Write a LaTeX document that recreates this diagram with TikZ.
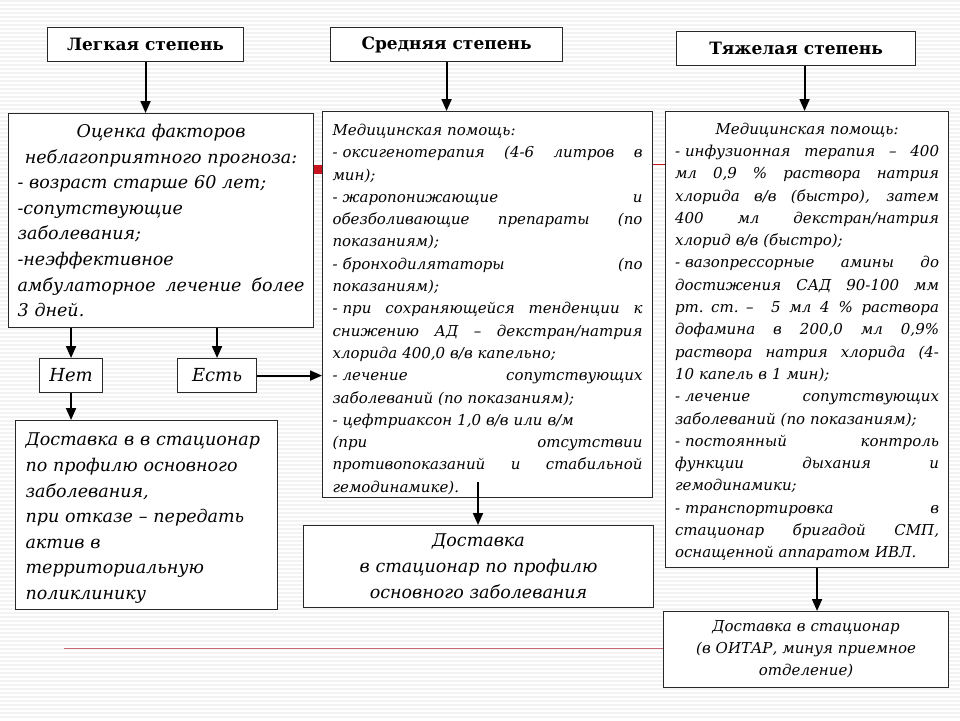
\documentclass[tikz,border=0pt]{standalone}
\usepackage{fontspec}
\setmainfont{DejaVu Serif}
\usetikzlibrary{arrows.meta,calc}
\newcommand{\fullline}[1]{\makebox[\linewidth][s]{\spaceskip=.33em plus 1fil\relax #1}}
\newcommand{\ctrline}[1]{\makebox[\linewidth][c]{#1}}
\newcommand{\dsh}{\mbox{-\kern.33em}}
\definecolor{stripe}{RGB}{243,243,243}
\definecolor{redband}{RGB}{200,20,30}
\definecolor{redthin}{RGB}{200,105,120}
\definecolor{boxline}{RGB}{40,40,40}
\begin{document}
\begin{tikzpicture}[x=1pt,y=-1pt,
  box/.style={draw=boxline,line width=1.1pt,fill=white,inner ysep=0pt,anchor=north west},
  hdr/.style={box,inner xsep=4pt,font=\fontsize{17}{20}\selectfont\bfseries,align=center},
  bigtxt/.style={font=\fontsize{17.5}{25.6}\selectfont\itshape},
  smalltxt/.style={font=\fontsize{15}{22.3}\selectfont\itshape},
  arr/.style={line width=1.9pt,-{Triangle[length=12pt,width=10pt]}},
  stripeline/.style={draw=stripe,line width=1.5pt}]
\useasboundingbox (0,0) rectangle (960,720);
\fill[white] (0,0) rectangle (960,720);
\foreach \yy in {1,5,...,720} \draw[stripeline] (0,\yy) -- (960,\yy);
% red decorations
\fill[redband] (313,165) rectangle (322,174);
\draw[redband,line width=0.9pt] (652,164) -- (665,164);
\draw[redthin,line width=1pt] (64,648) -- (663,648);
% headers
\node[hdr,minimum width=196pt,minimum height=34pt] (h1) at (47,27) {Легкая степень};
\node[hdr,minimum width=232pt,minimum height=34pt] (h2) at (330,27) {Средняя степень};
\node[hdr,minimum width=239pt,minimum height=34pt] (h3) at (676,31) {Тяжелая степень};
% left box
\node[box,bigtxt,inner xsep=9pt,text width=287pt,minimum height=214pt,align=left] (lb) at (8,113) {%
\ctrline{Оценка факторов}\\
\ctrline{неблагоприятного прогноза:}\\
\dsh возраст старше 60 лет;\\
-сопутствующие\\
заболевания;\\
-неэффективное\\
\fullline{амбулаторное лечение более}\\
3 дней.};
% middle box
\node[box,smalltxt,inner xsep=10pt,text width=310pt,minimum height=386pt,align=left] (mb) at (322,111) {%
\rule{0pt}{21pt}Медицинская помощь:\\
\fullline{\dsh оксигенотерапия (4-6 литров в}\\
мин);\\
\fullline{\dsh жаропонижающие и}\\
\fullline{обезболивающие препараты (по}\\
показаниям);\\
\fullline{\dsh бронходилятаторы (по}\\
показаниям);\\
\fullline{\dsh при сохраняющейся тенденции к}\\
\fullline{снижению АД – декстран/натрия}\\
хлорида 400,0 в/в капельно;\\
\fullline{\dsh лечение сопутствующих}\\
заболеваний (по показаниям);\\
\dsh цефтриаксон 1,0 в/в или в/м\\
\fullline{(при отсутствии}\\
\fullline{противопоказаний и стабильной}\\
гемодинамике).};
% right box
\node[box,smalltxt,inner xsep=9.5pt,text width=264pt,minimum height=456pt,align=left] (rb) at (665,111) {%
\rule{0pt}{16pt}\ctrline{Медицинская помощь:}\\
\fullline{\dsh инфузионная терапия – 400}\\
\fullline{мл 0,9 \% раствора натрия}\\
\fullline{хлорида в/в (быстро), затем}\\
\fullline{400 мл декстран/натрия}\\
хлорид в/в (быстро);\\
\fullline{\dsh вазопрессорные амины до}\\
\fullline{достижения САД 90-100 мм}\\
\fullline{рт. ст. – \ 5 мл 4 \% раствора}\\
\fullline{дофамина в 200,0 мл 0,9\%}\\
\fullline{раствора натрия хлорида (4-}\\
10 капель в 1 мин);\\
\fullline{\dsh лечение сопутствующих}\\
заболеваний (по показаниям);\\
\fullline{\dsh постоянный контроль}\\
\fullline{функции дыхания и}\\
гемодинамики;\\
\fullline{\dsh транспортировка в}\\
\fullline{стационар бригадой СМП,}\\
оснащенной аппаратом ИВЛ.};
% Нет / Есть
\node[box,font=\fontsize{18}{22}\selectfont\itshape,minimum width=63pt,minimum height=34pt] (net) at (39,358) {Нет};
\node[box,font=\fontsize{18}{22}\selectfont\itshape,minimum width=79pt,minimum height=34pt] (est) at (177,358) {Есть};
% bottom boxes
\node[box,bigtxt,inner xsep=10pt,text width=242pt,minimum height=189pt,align=left] (bl) at (15,420) {%
\rule{0pt}{19pt}Доставка в в стационар\\
по профилю основного\\
заболевания,\\
при отказе – передать\\
актив в\\
территориальную\\
поликлинику};
\node[box,font=\fontsize{17.5}{26}\selectfont\itshape,inner xsep=10pt,text width=330pt,minimum height=82pt,align=center] (bm) at (303,525) {%
Доставка\\
в стационар по профилю\\
основного заболевания};
\node[box,font=\fontsize{15}{22}\selectfont\itshape,inner xsep=10pt,text width=265pt,minimum height=76pt,align=center] (br) at (663,611) {%
Доставка в стационар\\
(в ОИТАР, минуя приемное\\
отделение)};
% connectors
\coordinate (ms) at (478,482);
\draw[arr] (h1.south) -- (h1.south |- lb.north);
\draw[arr] (h2.south) -- (h2.south |- mb.north);
\draw[arr] ([xshift=8.5pt]h3.south) -- ([xshift=8.5pt]h3.south |- rb.north);
\draw[arr] (lb.south -| net.north) -- (net.north);
\draw[arr] (lb.south -| est.north) -- (est.north);
\draw[arr] (est.east) -- (est.east -| mb.west);
\draw[arr] (net.south) -- (net.south |- bl.north);
\draw[arr] (ms) -- (ms |- bm.north);
\draw[arr] ([xshift=10pt]rb.south) -- ([xshift=10pt]rb.south |- br.north);
\end{tikzpicture}
\end{document}
